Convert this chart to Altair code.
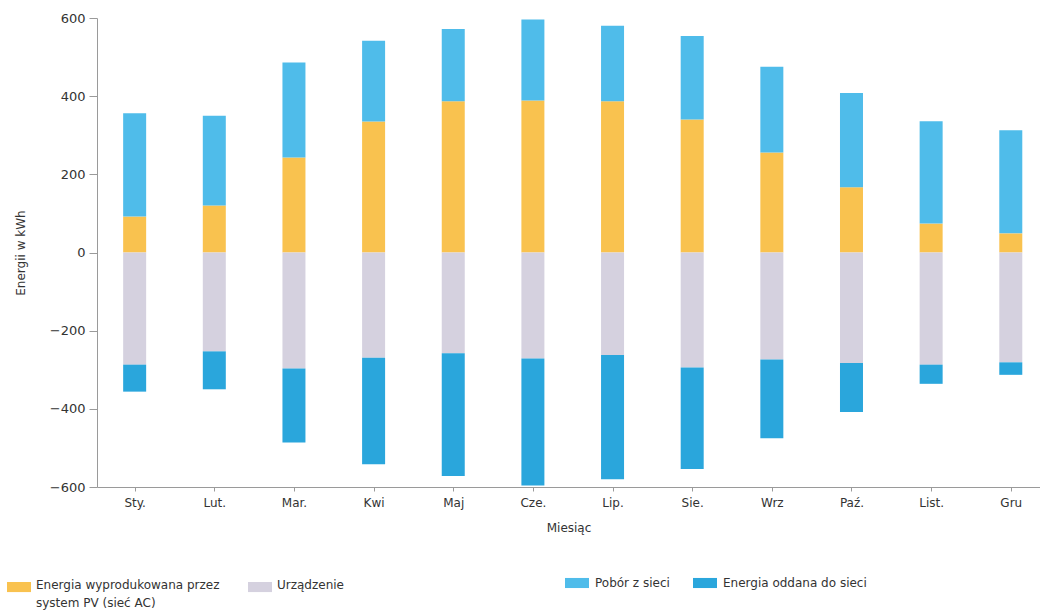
import json
import altair as alt
import pandas as pd

# ---- data ----
months = ["Sty.", "Lut.", "Mar.", "Kwi", "Maj", "Cze.", "Lip.", "Sie.", "Wrz", "Paź.", "List.", "Gru"]
pv_produced = [92, 120, 243, 335, 387, 389, 387, 340, 256, 167, 74, 49]      # yellow, upwards
grid_draw = [264, 230, 243, 207, 185, 207, 193, 214, 219, 241, 262, 264]     # light blue, on top of yellow
device_use = [287, 253, 297, 269, 258, 271, 262, 294, 274, 283, 287, 281]    # lavender, downwards
grid_feed = [69, 97, 189, 273, 314, 325, 318, 260, 201, 125, 49, 32]         # blue, below lavender

S_PV = "Energia wyprodukowana przez system PV (sieć AC)"
S_URZ = "Urządzenie"
S_POB = "Pobór z sieci"
S_ODD = "Energia oddana do sieci"

C_PV = "#F9C24F"
C_URZ = "#D5D1DF"
C_POB = "#4FBCEA"
C_ODD = "#2AA6DC"

rows_a, rows_b = [], []
for i, m in enumerate(months):
    rows_a.append(dict(idx=i, month=m, series=S_PV, y0=0, y1=pv_produced[i]))
    rows_a.append(dict(idx=i, month=m, series=S_URZ, y0=0, y1=-device_use[i]))
    rows_b.append(dict(idx=i, month=m, series=S_POB, y0=pv_produced[i],
                       y1=pv_produced[i] + grid_draw[i]))
    rows_b.append(dict(idx=i, month=m, series=S_ODD, y0=-device_use[i],
                       y1=-device_use[i] - grid_feed[i]))
df_a = pd.DataFrame(rows_a)
df_b = pd.DataFrame(rows_b)

FONT = "DejaVu Sans"
label_expr = json.dumps(months, ensure_ascii=False) + "[datum.value]"

x_enc = alt.X(
    "idx:Q",
    scale=alt.Scale(domain=[-0.41, 11.304], nice=False, zero=False),
    axis=alt.Axis(values=list(range(12)), labelExpr=label_expr, title="Miesiąc",
                  grid=False, tickSize=4, labelPadding=6, titlePadding=14,
                  labelFontSize=12, titleFontSize=12),
)
y_enc = alt.Y(
    "y0:Q",
    scale=alt.Scale(domain=[-600, 600], nice=False),
    axis=alt.Axis(values=[-600, -400, -200, 0, 200, 400, 600], title="Energii w kWh",
                  grid=False, tickSize=8, labelPadding=4, titlePadding=22,
                  labelFontSize=13, titleFontSize=12),
)

rect_path_a = "M-1,-0.25H1V0.59H-1Z"
rect_path_b = "M-1,-0.42H1V0.42H-1Z"
pv_label = ("datum.label == '" + S_PV + "' ? ['Energia wyprodukowana przez', "
            "'system PV (sieć AC)'] : [datum.label, '']")

bars_a = alt.Chart(df_a).mark_bar(size=23).encode(
    x=x_enc,
    y=y_enc,
    y2="y1:Q",
    color=alt.Color(
        "series:N",
        scale=alt.Scale(domain=[S_PV, S_URZ], range=[C_PV, C_URZ]),
        legend=alt.Legend(orient="none", legendX=-90, legendY=555, direction="horizontal",
                          columns=2, title=None, symbolType=rect_path_a, symbolSize=576,
                          symbolStrokeWidth=0, labelOffset=5, columnPadding=28,
                          labelFontSize=12, labelLimit=400, labelExpr=pv_label,
                          labelBaseline="middle"),
    ),
)

bars_b = alt.Chart(df_b).mark_bar(size=23).encode(
    x=x_enc,
    y=y_enc,
    y2="y1:Q",
    color=alt.Color(
        "series:N",
        scale=alt.Scale(domain=[S_POB, S_ODD], range=[C_POB, C_ODD]),
        legend=alt.Legend(orient="none", legendX=468, legendY=553, direction="horizontal",
                          columns=2, title=None, symbolType=rect_path_b, symbolSize=576,
                          symbolStrokeWidth=0, labelOffset=6, columnPadding=23,
                          labelFontSize=12, labelLimit=400),
    ),
)

chart = (
    alt.layer(bars_a, bars_b)
    .resolve_scale(color="independent")
    .properties(width=943, height=469, autosize=alt.AutoSizeParams(type="none"),
                padding={"left": 97, "top": 18, "right": 0, "bottom": 124})
    .configure(background="white", font=FONT,
               style={"guide-label": {"lineHeight": 18}})
    .configure_view(stroke=None)
    .configure_axis(domainColor="#9a9a9a", tickColor="#9a9a9a", labelColor="#333333",
                    titleColor="#333333", labelFont=FONT, titleFont=FONT,
                    titleFontWeight="normal", domainWidth=1)
    .configure_legend(labelColor="#333333", labelFont=FONT, padding=0)
)

chart.save("out.html", embed_options={"renderer": "svg", "actions": False})
